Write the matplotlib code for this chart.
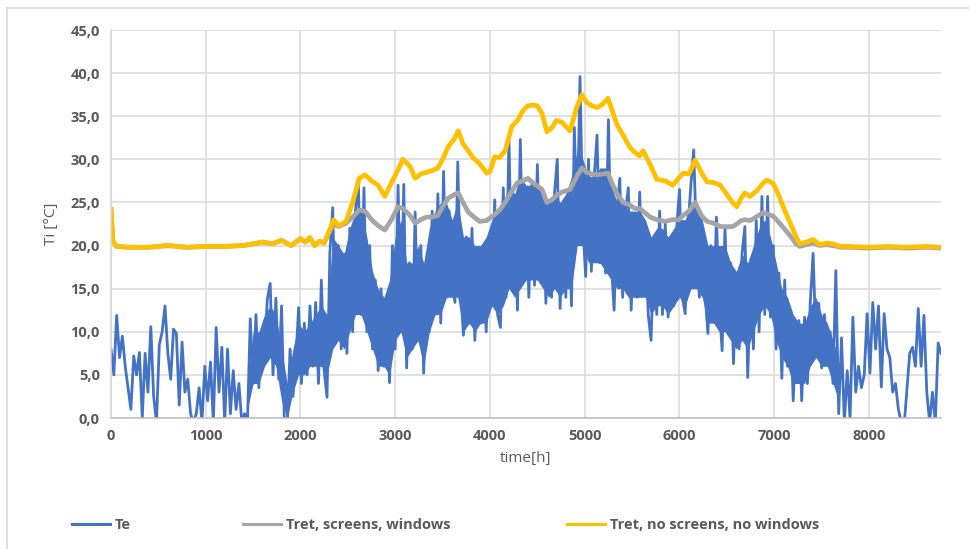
import numpy as np
import matplotlib
matplotlib.use('Agg')
from matplotlib import pyplot as plt
from matplotlib.lines import Line2D
from matplotlib.patches import Rectangle
from matplotlib.ticker import FuncFormatter, MultipleLocator

plt.rcParams['font.family'] = ['Open Sans', 'DejaVu Sans']

# outdoor temperature Te, one reading every 30 h
te = [
    8.0, 5.0, 11.9, 7.0, 9.5, 6.0, 3.5, 1.0, 7.2, 5.0,          # 0-270
    7.6, 0.0, 7.5, 3.0, 10.6, 2.5, -0.5, 8.5, 10.0, 13.0,       # 300-570
    7.5, 4.5, 10.3, 9.8, 1.5, 8.8, 3.0, 4.5, 0.5, -0.5,         # 600-870
    0.5, 3.5, -0.5, 6.0, 2.0, 6.5, -0.5, 10.5, 3.0, 8.2,        # 900-1170
    -0.5, 8.0, 0.5, 5.5, 1.0, 4.0, -0.5, 0.5, -0.5, 11.5,       # 1200-1470
    4.0, 12.0, 3.5, 10.0, 7.5, 13.8, 15.6, 5.0, 13.9, 4.5,      # 1500-1770
    13.0, -0.5, -1.0, 8.0, 2.5, 6.5, 12.8, 4.0, 11.0, 5.0,      # 1800-2070
    13.0, 6.0, 13.4, 4.0, 16.0, 5.5, 2.4, 19.2, 24.4, 9.0,      # 2100-2370
    20.0, 8.0, 19.0, 7.5, 22.0, 10.0, 24.0, 27.8, 12.0, 26.7,   # 2400-2670
    10.0, 20.0, 8.0, 16.0, 5.5, 15.0, 6.0, 14.0, 4.1, 20.0,     # 2700-2970
    8.0, 27.0, 10.0, 27.1, 5.8, 18.0, 8.0, 23.9, 9.0, 20.0,     # 3000-3270
    5.2, 18.0, 10.0, 24.0, 12.0, 26.0, 11.0, 28.6, 14.0, 24.0,  # 3300-3570
    16.0, 13.4, 29.7, 15.0, 9.6, 21.0, 11.0, 22.0, 9.0, 17.4,   # 3600-3870
    11.0, 18.0, 10.0, 20.0, 13.3, 25.3, 12.0, 10.5, 26.7, 14.0, # 3900-4170
    32.5, 15.0, 24.0, 12.5, 32.3, 16.0, 26.0, 14.0, 27.0, 15.4, # 4200-4470
    29.4, 16.0, 26.0, 13.3, 24.0, 14.0, 26.0, 30.0, 12.7, 24.0, # 4500-4770
    14.0, 25.0, 13.0, 33.7, 22.0, 39.6, 22.2, 16.4, 30.0, 17.0, # 4800-5070
    28.0, 32.8, 18.0, 27.0, 16.8, 34.6, 18.0, 12.5, 24.0, 27.8, # 5100-5370
    14.0, 24.0, 26.7, 12.5, 22.0, 14.0, 26.2, 15.0, 22.0, 12.0, # 5400-5670
    9.0, 20.0, 12.0, 24.0, 12.0, 22.6, 11.7, 21.0, 13.0, 22.0,  # 5700-5970
    26.5, 14.0, 12.1, 22.0, 27.0, 31.1, 20.0, 14.0, 22.0, 14.4, # 6000-6270
    9.8, 20.0, 12.0, 23.3, 13.0, 7.8, 22.2, 11.0, 18.0, 6.3,    # 6300-6570
    16.0, 8.0, 19.0, 22.2, 4.7, 16.0, 8.0, 22.9, 10.0, 25.7,    # 6600-6870
    12.0, 25.7, 11.7, 20.0, 8.0, 16.8, 4.6, 16.0, 6.0, 12.0,    # 6900-7170
    2.0, 10.0, 11.3, 2.0, 11.7, 4.0, 13.4, 19.1, 9.0, 13.3,     # 7200-7470
    5.8, 12.0, 7.0, 10.0, 4.0, 17.1, 0.5, 9.3, -0.5, 5.5,       # 7500-7770
    0.0, 11.7, 3.0, 6.0, 3.5, 5.0, 12.1, 5.2, 13.4, 8.0,        # 7800-8070
    13.0, 3.6, 12.1, 8.0, 7.0, 3.0, 4.0, 1.0, -0.5, -1.0,       # 8100-8370
    3.2, 7.5, 8.2, 6.0, 12.7, 6.0, 11.9, 3.0, -0.5, 3.0,        # 8400-8670
    -0.5, 8.7, 7.5,                                             # 8700-8760
]
assert len(te) == 293
te_hours = np.arange(len(te)) * 30

# the solid part of the Te trace (daily swings), every 60 h from 1440 h
band_start = 1440
te_band_lo = [1, 4, 4, 6, 7, 6, 2, 0, 3, 5, 5, 6, 6, 6, 5,        # 1440-2280
              8, 9, 8, 10, 12, 12, 10, 8, 6, 6,                    # 2340-2880
              5, 9, 10, 7, 8, 9, 6, 10, 12, 12,                    # 2940-3480
              14, 14, 14, 10, 11, 10, 11, 11, 13, 12,              # 3540-4080
              13, 15, 14, 15, 16, 16, 16, 15, 14, 15,              # 4140-4680
              14, 15, 15, 20, 20, 18, 18, 18, 17, 16,              # 4740-5280
              15, 15, 14, 14, 14, 14, 12, 13, 13, 12,              # 5340-5880
              13, 14, 13, 15, 15, 14, 11, 11, 10, 10,              # 5940-6480
              9, 8, 9, 8, 10, 12, 13, 12, 9, 7,                    # 6540-7080
              6, 4, 4, 4, 6, 7, 6, 6, 4, 2]                        # 7140-7680
te_band_hi = [4, 10, 10, 12, 13, 12, 8, 4, 8, 11, 10, 11, 12, 13, 12,
              21, 20, 19, 22, 24, 24, 21, 17, 15, 14,
              16, 21, 23, 18, 18, 20, 18, 22, 24, 25,
              25, 23, 25, 21, 21, 20, 20, 21, 23, 24,
              25, 27, 26, 28, 27, 27, 27, 26, 25, 26,
              25, 26, 28, 31, 30, 28, 28, 29, 29, 27,
              25, 25, 24, 24, 24, 23, 21, 22, 22, 21,
              22, 23, 23, 25, 25, 23, 20, 20, 20, 20,
              18, 17, 19, 18, 20, 22, 23, 21, 18, 15,
              14, 12, 11, 11, 13, 14, 12, 11, 9, 7]
assert len(te_band_lo) == len(te_band_hi)
band_hours = band_start + np.arange(len(te_band_lo)) * 60

# indoor temperature, the two cases
ti_hours = [0, 20, 60, 200, 400, 600, 800, 1000, 1200, 1400, 1500, 1600, 1700,
            1800, 1900, 2000, 2050, 2100, 2150, 2200, 2250, 2300, 2350, 2400,
            2480, 2550, 2620, 2680, 2750, 2820, 2890, 2960, 3030, 3080, 3155,
            3210, 3270, 3330, 3390, 3450, 3500, 3560, 3620, 3665, 3715, 3770,
            3820, 3890, 3965, 4000, 4050, 4100, 4160, 4230, 4290, 4350, 4400,
            4450, 4500, 4550, 4600, 4650, 4700, 4760, 4845, 4915, 4970, 5020,
            5075, 5130, 5190, 5245, 5285, 5340, 5405, 5475, 5530, 5580, 5615,
            5690, 5760, 5850, 5930, 5990, 6040, 6100, 6165, 6230, 6290, 6360,
            6430, 6515, 6560, 6605, 6650, 6690, 6745, 6820, 6880, 6920, 6990,
            7040, 7095, 7140, 7185, 7230, 7270, 7340, 7410, 7480, 7550, 7620,
            7700, 7800, 8000, 8200, 8400, 8600, 8760]

ti_no_screens = [24.2, 20.5, 19.9, 19.8, 19.8, 20.0, 19.8, 19.9, 19.9, 20.0,
                 20.2, 20.4, 20.2, 20.6, 20.0, 20.8, 20.4, 20.9, 20.0, 20.5,
                 20.3, 21.6, 23.0, 22.3, 22.8, 25.0, 27.8, 28.2, 27.5, 27.0,
                 25.7, 27.3, 28.8, 30.0, 29.2, 27.8, 28.3, 28.5, 28.7, 29.0,
                 30.0, 31.5, 32.3, 33.3, 31.8, 31.0, 30.2, 29.5, 28.4, 28.6,
                 30.3, 30.2, 31.0, 33.8, 34.5, 35.7, 36.2, 36.3, 36.2, 35.3,
                 33.2, 33.6, 34.5, 34.3, 33.3, 36.0, 37.5, 36.6, 36.2, 36.0,
                 36.4, 37.1, 35.8, 34.0, 32.8, 31.4, 30.8, 30.4, 31.0, 29.4,
                 27.7, 27.5, 27.0, 27.8, 28.4, 28.3, 29.9, 28.5, 27.4, 27.3,
                 27.0, 25.7, 25.0, 24.5, 25.5, 26.1, 25.7, 26.4, 27.2, 27.6,
                 27.2, 26.0, 24.5, 23.3, 22.2, 21.0, 20.2, 20.4, 20.7, 20.1,
                 20.3, 20.2, 19.9, 19.9, 19.8, 19.9, 19.8, 19.9, 19.8]

ti_screens = [24.2, 20.5, 19.9, 19.8, 19.8, 20.0, 19.8, 19.9, 19.9, 20.0,
              20.2, 20.4, 20.2, 20.6, 20.0, 20.8, 20.4, 20.9, 20.0, 20.5,
              20.3, 21.5, 22.5, 22.2, 22.6, 23.3, 24.1, 24.0, 23.0, 22.3,
              21.8, 23.0, 24.5, 24.3, 23.5, 22.6, 23.0, 23.3, 23.3, 23.5,
              24.5, 25.5, 25.9, 26.1, 25.0, 23.9, 23.4, 22.8, 22.9, 23.2,
              23.6, 24.1, 25.0, 26.3, 27.3, 27.5, 27.8, 27.3, 26.9, 26.5,
              25.0, 25.3, 25.8, 26.2, 26.5, 28.0, 29.0, 28.5, 28.3, 28.2,
              28.3, 28.4, 27.3, 26.0, 25.0, 24.7, 24.3, 24.3, 24.0, 23.3,
              23.0, 22.8, 23.0, 23.0, 23.5, 24.0, 25.0, 23.5, 22.8, 22.6,
              22.2, 22.2, 22.2, 22.5, 22.9, 23.0, 22.9, 23.4, 23.8, 23.7,
              23.4, 22.8, 22.1, 21.5, 20.9, 20.2, 19.9, 20.1, 20.3, 20.0,
              20.1, 20.0, 19.8, 19.8, 19.7, 19.8, 19.7, 19.8, 19.7]

labels = ['Te', 'Tret, screens, windows', 'Tret, no screens, no windows']
colors = ['#4472C4', '#A5A5A5', '#FFC000']

W, H = 970, 549
fig = plt.figure(figsize=(W / 100, H / 100), dpi=100)
ax = fig.add_axes([111 / W, 1 - 418 / H, 830 / W, 388 / H])

ax.fill_between(band_hours, te_band_lo, te_band_hi, color=colors[0], lw=0)
ax.plot(te_hours, te, color=colors[0], lw=2.0)
ax.plot(ti_hours, ti_screens, color=colors[1], lw=3.4)
ax.plot(ti_hours, ti_no_screens, color=colors[2], lw=3.4)

ax.set_xlim(0, 8760)
ax.set_ylim(0, 45)
ax.xaxis.set_major_locator(MultipleLocator(1000))
ax.yaxis.set_major_locator(MultipleLocator(5))
ax.yaxis.set_major_formatter(FuncFormatter(lambda v, p: f'{v:.1f}'.replace('.', ',')))
ax.grid(True, color='#d9d9d9', lw=1.1)
ax.set_axisbelow(True)
for s in ['top', 'right']:
    ax.spines[s].set_visible(False)
ax.spines['left'].set_color('#d9d9d9')
ax.spines['bottom'].set_color('#bfbfbf')
ax.spines['left'].set_linewidth(1.1)
ax.spines['bottom'].set_linewidth(1.1)
ax.tick_params(length=0, labelsize=10.5, labelcolor='#595959', pad=8)
for t in ax.get_xticklabels() + ax.get_yticklabels():
    t.set_fontweight('bold')

ax.set_xlabel('time[h]', fontsize=11, color='#595959', labelpad=6)
ax.set_ylabel('Ti [°C]', fontsize=11, color='#595959', labelpad=8)

# legend entries placed one by one, as in the original
leg_x = [72, 243, 567]
for lab, col, x in zip(labels, colors, leg_x):
    h = Line2D([], [], color=col, lw=2.2)
    lg = fig.legend(handles=[h], labels=[lab], loc='center left',
                    bbox_to_anchor=(x / W, 1 - 525 / H), frameon=False,
                    borderpad=0, borderaxespad=0, handlelength=2.6,
                    handletextpad=0.35,
                    prop={'size': 10.5, 'weight': 'bold'})
    for t in lg.get_texts():
        t.set_color('#595959')

fig.patches.append(Rectangle((7 / W, -0.01), 1.0, 1 - 8 / H + 0.01,
                             transform=fig.transFigure, fill=False,
                             edgecolor='#d9d9d9', lw=1.2))

fig.savefig('out.png', dpi=100)
